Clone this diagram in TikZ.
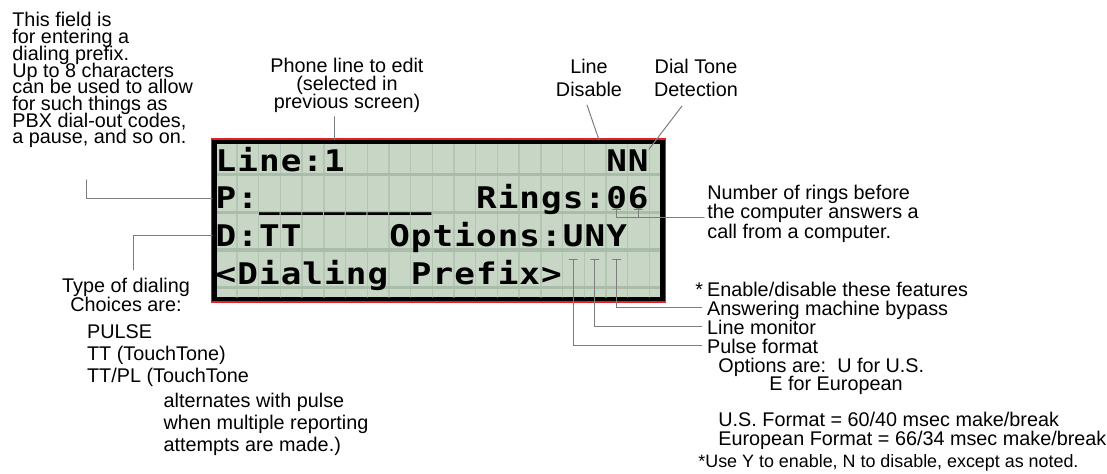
\documentclass[tikz,border=0pt]{standalone}
\usepackage{fontspec}
\setmainfont{Liberation Sans}
\newfontfamily\lcdfamily{DejaVu Sans Mono}
\definecolor{lcdgreen}{RGB}{199,214,197}
\definecolor{lcdband}{RGB}{170,189,170}
\definecolor{lcdgrid}{RGB}{180,197,180}
\definecolor{lcdred}{RGB}{226,32,38}
\definecolor{leadgray}{RGB}{125,125,125}
\newcommand\lcdrow[3]{%
  \foreach \lcdch [count=\ci from #2] in {#3}
    \node[lcdchar] (c#1-\ci) at ({226+21.7*\ci},{171.3+37.6*#1}) {\scalebox{1.15}[1]{\lcdch}};}

\begin{document}
\begin{tikzpicture}[x=0.5pt,y=-0.5pt,line cap=round,
  lbl/.style={inner sep=0pt,font={\fontsize{9.9}{#1}\selectfont\lineskiplimit=-\maxdimen}},
  lbl/.default=9.5,
  lcdchar/.style={inner sep=0pt,anchor=base,font=\lcdfamily\bfseries\fontsize{14.9}{14.9}\selectfont},
  leader/.style={draw=leadgray,line width=0.5pt}]
  \useasboundingbox (0,0) rectangle (1107,474);
  \node[draw=black,line width=2.25pt,fill=lcdgreen,inner sep=0pt,
    minimum width=224pt,minimum height=78.5pt,
    preaction={draw=lcdred,line width=3.75pt}] (lcd) at (438.25,220.75) {};
  \foreach \ci in {0,...,19}
    \draw[lcdgrid,line width=0.7pt] ({237+21.7*\ci},144.5) -- ({237+21.7*\ci},297);
  \foreach \row in {0,...,3}
    \fill[lcdband] (216.5,{173+37.6*\row}) rectangle (660,{176.5+37.6*\row});
  \lcdrow{0}{0}{L,i,n,e,:,1}
  \lcdrow{0}{18}{N,N}
  \lcdrow{1}{0}{P,:,\_,\_,\_,\_,\_,\_,\_,\_}
  \lcdrow{1}{12}{R,i,n,g,s,:,0,6}
  \lcdrow{2}{0}{D,:,T,T}
  \lcdrow{2}{8}{O,p,t,i,o,n,s,:,U,N,Y}
  \lcdrow{3}{0}{<,D,i,a,l,i,n,g}
  \lcdrow{3}{9}{P,r,e,f,i,x,>}
  \node[lbl=8.35,align=left,anchor=north west] (prefix) at (12,12.2) {This field is\\for entering a\\dialing prefix.\\Up to 8 characters\\can be used to allow\\for such things as\\PBX dial-out codes,\\a pause, and so on.};
  \node[lbl=9.15,align=center,anchor=north] (phone) at (347,57.4) {Phone line to edit\\(selected in\\previous screen)};
  \node[lbl=11.35,align=center,anchor=north] (disable) at (589,59.1) {Line\\Disable};
  \node[lbl=11.35,align=center,anchor=north] (tone) at (696,59.1) {Dial Tone\\Detection};
  \node[lbl=9.65,align=left,anchor=north west] (rings) at (707,184.7) {Number of rings before\\the computer answers a\\call from a computer.};
  \node[lbl,anchor=base west] (enable) at (695,296.5) {*\kern2pt Enable/disable these features};
  \node[lbl,anchor=base west] (bypass) at (706.7,315.5) {Answering machine bypass};
  \node[lbl,anchor=base west] (monitor) at (706.7,334.5) {Line monitor};
  \node[lbl,anchor=base west] (pulse) at (706.7,354) {Pulse format};
  \node[lbl,anchor=base west] (options) at (718,373) {Options are:\ \ U for U.S.};
  \node[lbl,anchor=base west] (european) at (769,391) {E for European};
  \node[lbl=9.5,align=left,anchor=north west] (formats) at (718,411.8) {U.S. Format = 60/40 msec make/break\\European Format = 66/34 msec make/break};
  \node[inner sep=0pt,font=\fontsize{8.95}{9}\selectfont,anchor=base west] (usenote) at (698,468) {*Use Y to enable, N to disable, except as noted.};
  \node[lbl=9.65,align=center,anchor=north] (dialtype) at (126,277.5) {Type of dialing\\Choices are:};
  \node[lbl=11.15,align=left,anchor=north west] (choices) at (86.7,324.1) {PULSE\\TT (TouchTone)\\TT/PL (TouchTone};
  \node[lbl=11,align=left,anchor=north west] (alternates) at (163.3,392.4) {alternates with pulse\\when multiple reporting\\attempts are made.)};
  \coordinate (prefix-tip) at (86,180);
  \coordinate (dial-tip) at (133,270);
  \coordinate (disable-tip) at (587,105);
  \coordinate (disable-end) at (599,140);
  \coordinate (tone-tip) at (682,106);
  \coordinate (rings-end) at (704,217.5);
  \draw[leader] (prefix-tip) |- (lcd.west |- c1-0);
  \draw[leader] (dial-tip) |- (lcd.west |- c2-0);
  \draw[leader,shorten <=1.75pt] (c0-5 |- phone.south) -- (c0-5 |- lcd.north);
  \draw[leader] (disable-tip) -- (disable-end);
  \draw[leader] (tone-tip) -- (c0-19.north east);
  \foreach \col in {18,19}
    \draw[leader] ([xshift=-2pt]c1-\col.south) -- ([xshift=2pt]c1-\col.south)
      (c1-\col.south) -- (c1-\col.south |- rings-end);
  \draw[leader] (c1-18.south |- rings-end) -- (rings-end);
  \foreach \col/\tgt in {16/pulse,17/monitor,18/bypass} {
    \coordinate (tick\col) at ([yshift=-6.25pt]c2-\col.south);
    \draw[leader] ([xshift=-2pt]tick\col) -- ([xshift=2pt]tick\col)
      (tick\col) |- ([xshift=-2.5pt,yshift=4pt]\tgt.base west);
  }
\end{tikzpicture}
\end{document}
